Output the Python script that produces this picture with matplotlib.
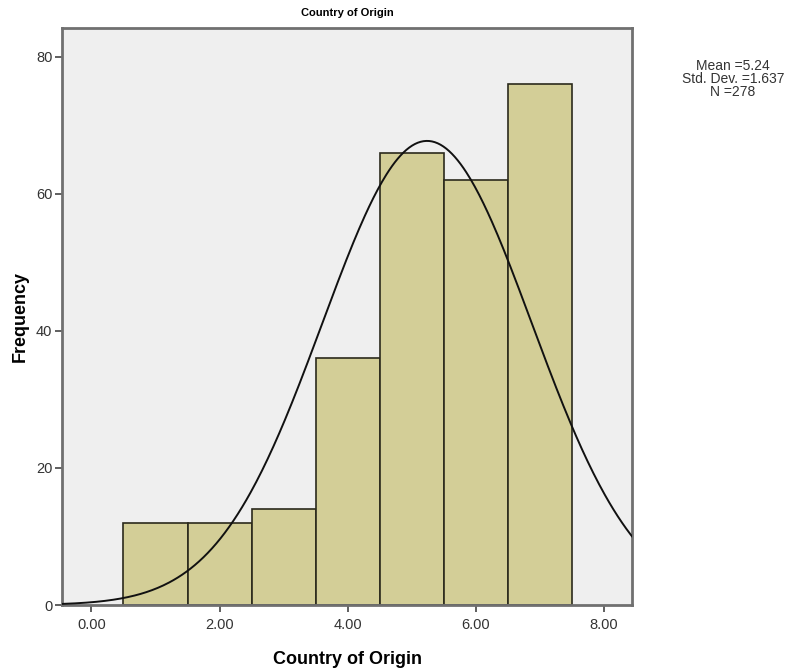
import numpy as np
import matplotlib.pyplot as plt

plt.rcParams['font.family'] = ['Liberation Sans', 'DejaVu Sans']

# histogram bins (centres) and counts
bin_centres = [1, 2, 3, 4, 5, 6, 7]
counts = [12, 12, 14, 36, 66, 62, 76]
x_ticks = [0, 2, 4, 6, 8]
x_tick_labels = ['0.00', '2.00', '4.00', '6.00', '8.00']
y_ticks = [0, 20, 40, 60, 80]

# summary stats shown in the legend box
mean = 5.24
std = 1.637
n = 278

fig = plt.figure(figsize=(7.89, 6.72), dpi=100)
ax = fig.add_axes([0.0786, 0.0997, 0.7224, 0.8583])
ax.set_facecolor('#efefef')

ax.bar(bin_centres, counts, width=1.0, color='#d3ce97', edgecolor='#2b2a1c', linewidth=1.2, zorder=2)

# fitted normal curve scaled to the counts (bin width 1)
xs = np.linspace(-0.46, 8.44, 400)
ys = n * 1.0 / (std * np.sqrt(2 * np.pi)) * np.exp(-0.5 * ((xs - mean) / std) ** 2)
ax.plot(xs, ys, color='#111111', linewidth=1.4, zorder=3)

ax.set_xlim(-0.46, 8.44)
ax.set_ylim(0, 84.2)
ax.set_xticks(x_ticks)
ax.set_xticklabels(x_tick_labels)
ax.set_yticks(y_ticks)

for s in ax.spines.values():
    s.set_color('#707070')
    s.set_linewidth(2)
ax.tick_params(axis='both', colors='#444444', labelsize=10.5, length=5, width=1.2, labelcolor='#333333')
ax.tick_params(axis='x', pad=4)
ax.tick_params(axis='y', pad=2)

ax.set_xlabel('Country of Origin', fontsize=13, fontweight='bold', labelpad=14)
ax.set_ylabel('Frequency', fontsize=13, fontweight='bold', labelpad=5)
ax.set_title('Country of Origin', fontsize=8, fontweight='bold', pad=9)

fig.text(0.929, 0.882, 'Mean =%.2f\nStd. Dev. =%.3f\nN =%d' % (mean, std, n),
         ha='center', va='center', fontsize=10, color='#333333', linespacing=0.9)

fig.savefig('out.png', dpi=100)
